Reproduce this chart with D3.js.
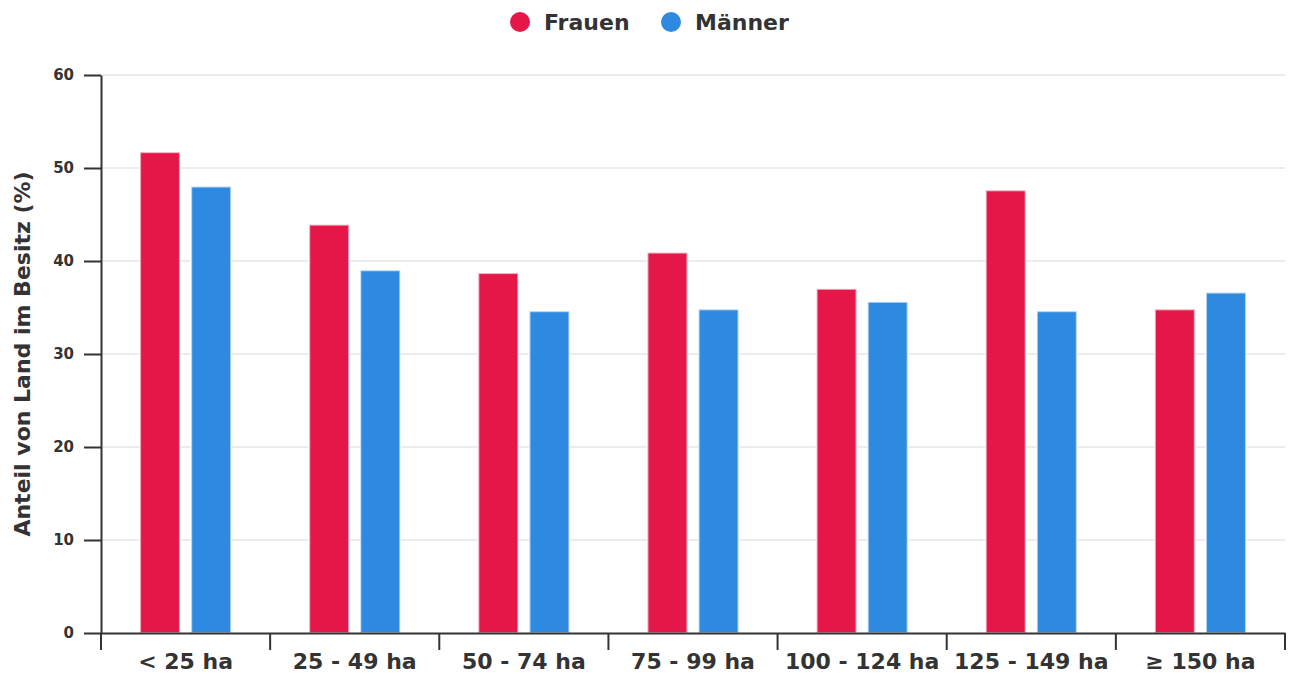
<!DOCTYPE html>
<meta charset="utf-8">
<style>
body { margin: 0; background: #fff; }
text {
  font-family: "DejaVu Sans", sans-serif;
  font-weight: bold;
  fill: #333;
}
.grid line { stroke: #e6e6e6; stroke-width: 1.5px; }
.axis path, .axis line { stroke: #333; stroke-width: 2px; }
</style>
<svg width="1296" height="675"></svg>
<script src="https://d3js.org/d3.v7.min.js"></script>
<script>

var categories = ["< 25 ha", "25 - 49 ha", "50 - 74 ha", "75 - 99 ha", "100 - 124 ha", "125 - 149 ha", "\u2265 150 ha"];
var frauen = [51.7, 43.9, 38.7, 40.9, 37.0, 47.6, 34.8];
var maenner = [48.0, 39.0, 34.6, 34.8, 35.6, 34.6, 36.6];
var yTicks = [0, 10, 20, 30, 40, 50, 60];
var series = [
  { name: "Frauen", values: frauen, color: "#e51748" },
  { name: "M\u00e4nner", values: maenner, color: "#2e89e0" }
];

var svg = d3.select("svg"),
    plotLeft = 101, plotRight = 1285, plotTop = 75, plotBottom = 633;

var x = d3.scaleBand()
    .domain(categories)
    .range([plotLeft, plotRight]);

var y = d3.scaleLinear()
    .domain([0, 60])
    .range([plotBottom, plotTop]);

var inner = d3.scaleBand()
    .domain(series.map(function(d) { return d.name; }))
    .range([0, 91])
    .paddingInner(0.22);

// gridlines
svg.append("g")
    .attr("class", "grid")
  .selectAll("line")
  .data(yTicks.filter(function(d) { return d > 0; }))
  .enter().append("line")
    .attr("x1", plotLeft)
    .attr("x2", plotRight)
    .attr("y1", function(d) { return y(d); })
    .attr("y2", function(d) { return y(d); });

// bars
var groups = svg.append("g")
  .selectAll("g")
  .data(categories)
  .enter().append("g")
    .attr("transform", function(c) {
      return "translate(" + (x(c) + x.bandwidth() / 2 - 45.5) + ",0)";
    });

groups.selectAll("rect")
  .data(function(c, i) {
    return series.map(function(s) { return { s: s, v: s.values[i] }; });
  })
  .enter().append("rect")
    .attr("x", function(d) { return inner(d.s.name); })
    .attr("width", inner.bandwidth())
    .attr("y", function(d) { return y(d.v); })
    .attr("height", function(d) { return plotBottom - y(d.v); })
    .attr("fill", function(d) { return d.s.color; })
    .attr("stroke", "#fff")
    .attr("stroke-opacity", 0.6)
    .attr("stroke-width", 2);

// y axis
var yAxis = svg.append("g")
    .attr("class", "axis")
    .attr("transform", "translate(" + plotLeft + ",0)")
    .call(d3.axisLeft(y).tickValues(yTicks).tickSize(17).tickPadding(10).tickSizeOuter(0));
yAxis.selectAll("text").style("font-size", "15px").style("fill", "#333");

// x axis
var xAxis = svg.append("g")
    .attr("class", "axis")
    .attr("transform", "translate(0," + plotBottom + ")")
    .call(d3.axisBottom(x).tickSize(0).tickPadding(20).tickSizeOuter(0));
xAxis.selectAll("text").style("font-size", "22px").style("fill", "#333");
xAxis.selectAll(".sep")
  .data(d3.range(categories.length + 1))
  .enter().append("line")
    .attr("class", "sep")
    .attr("x1", function(i) { return plotLeft + i * x.step(); })
    .attr("x2", function(i) { return plotLeft + i * x.step(); })
    .attr("y1", 0)
    .attr("y2", 17);

// axis title
svg.append("text")
    .attr("transform", "translate(22,354) rotate(-90)")
    .attr("text-anchor", "middle")
    .attr("dy", "0.35em")
    .style("font-size", "22px")
    .text("Anteil von Land im Besitz (%)");

// legend
var legend = svg.append("g")
  .selectAll("g")
  .data(series)
  .enter().append("g")
    .attr("transform", function(d, i) { return "translate(" + (520 + i * 151) + ",22)"; });

legend.append("circle")
    .attr("r", 10)
    .attr("fill", function(d) { return d.color; });

legend.append("text")
    .attr("x", 24)
    .attr("dy", "0.35em")
    .style("font-size", "22px")
    .text(function(d) { return d.name; });

</script>
